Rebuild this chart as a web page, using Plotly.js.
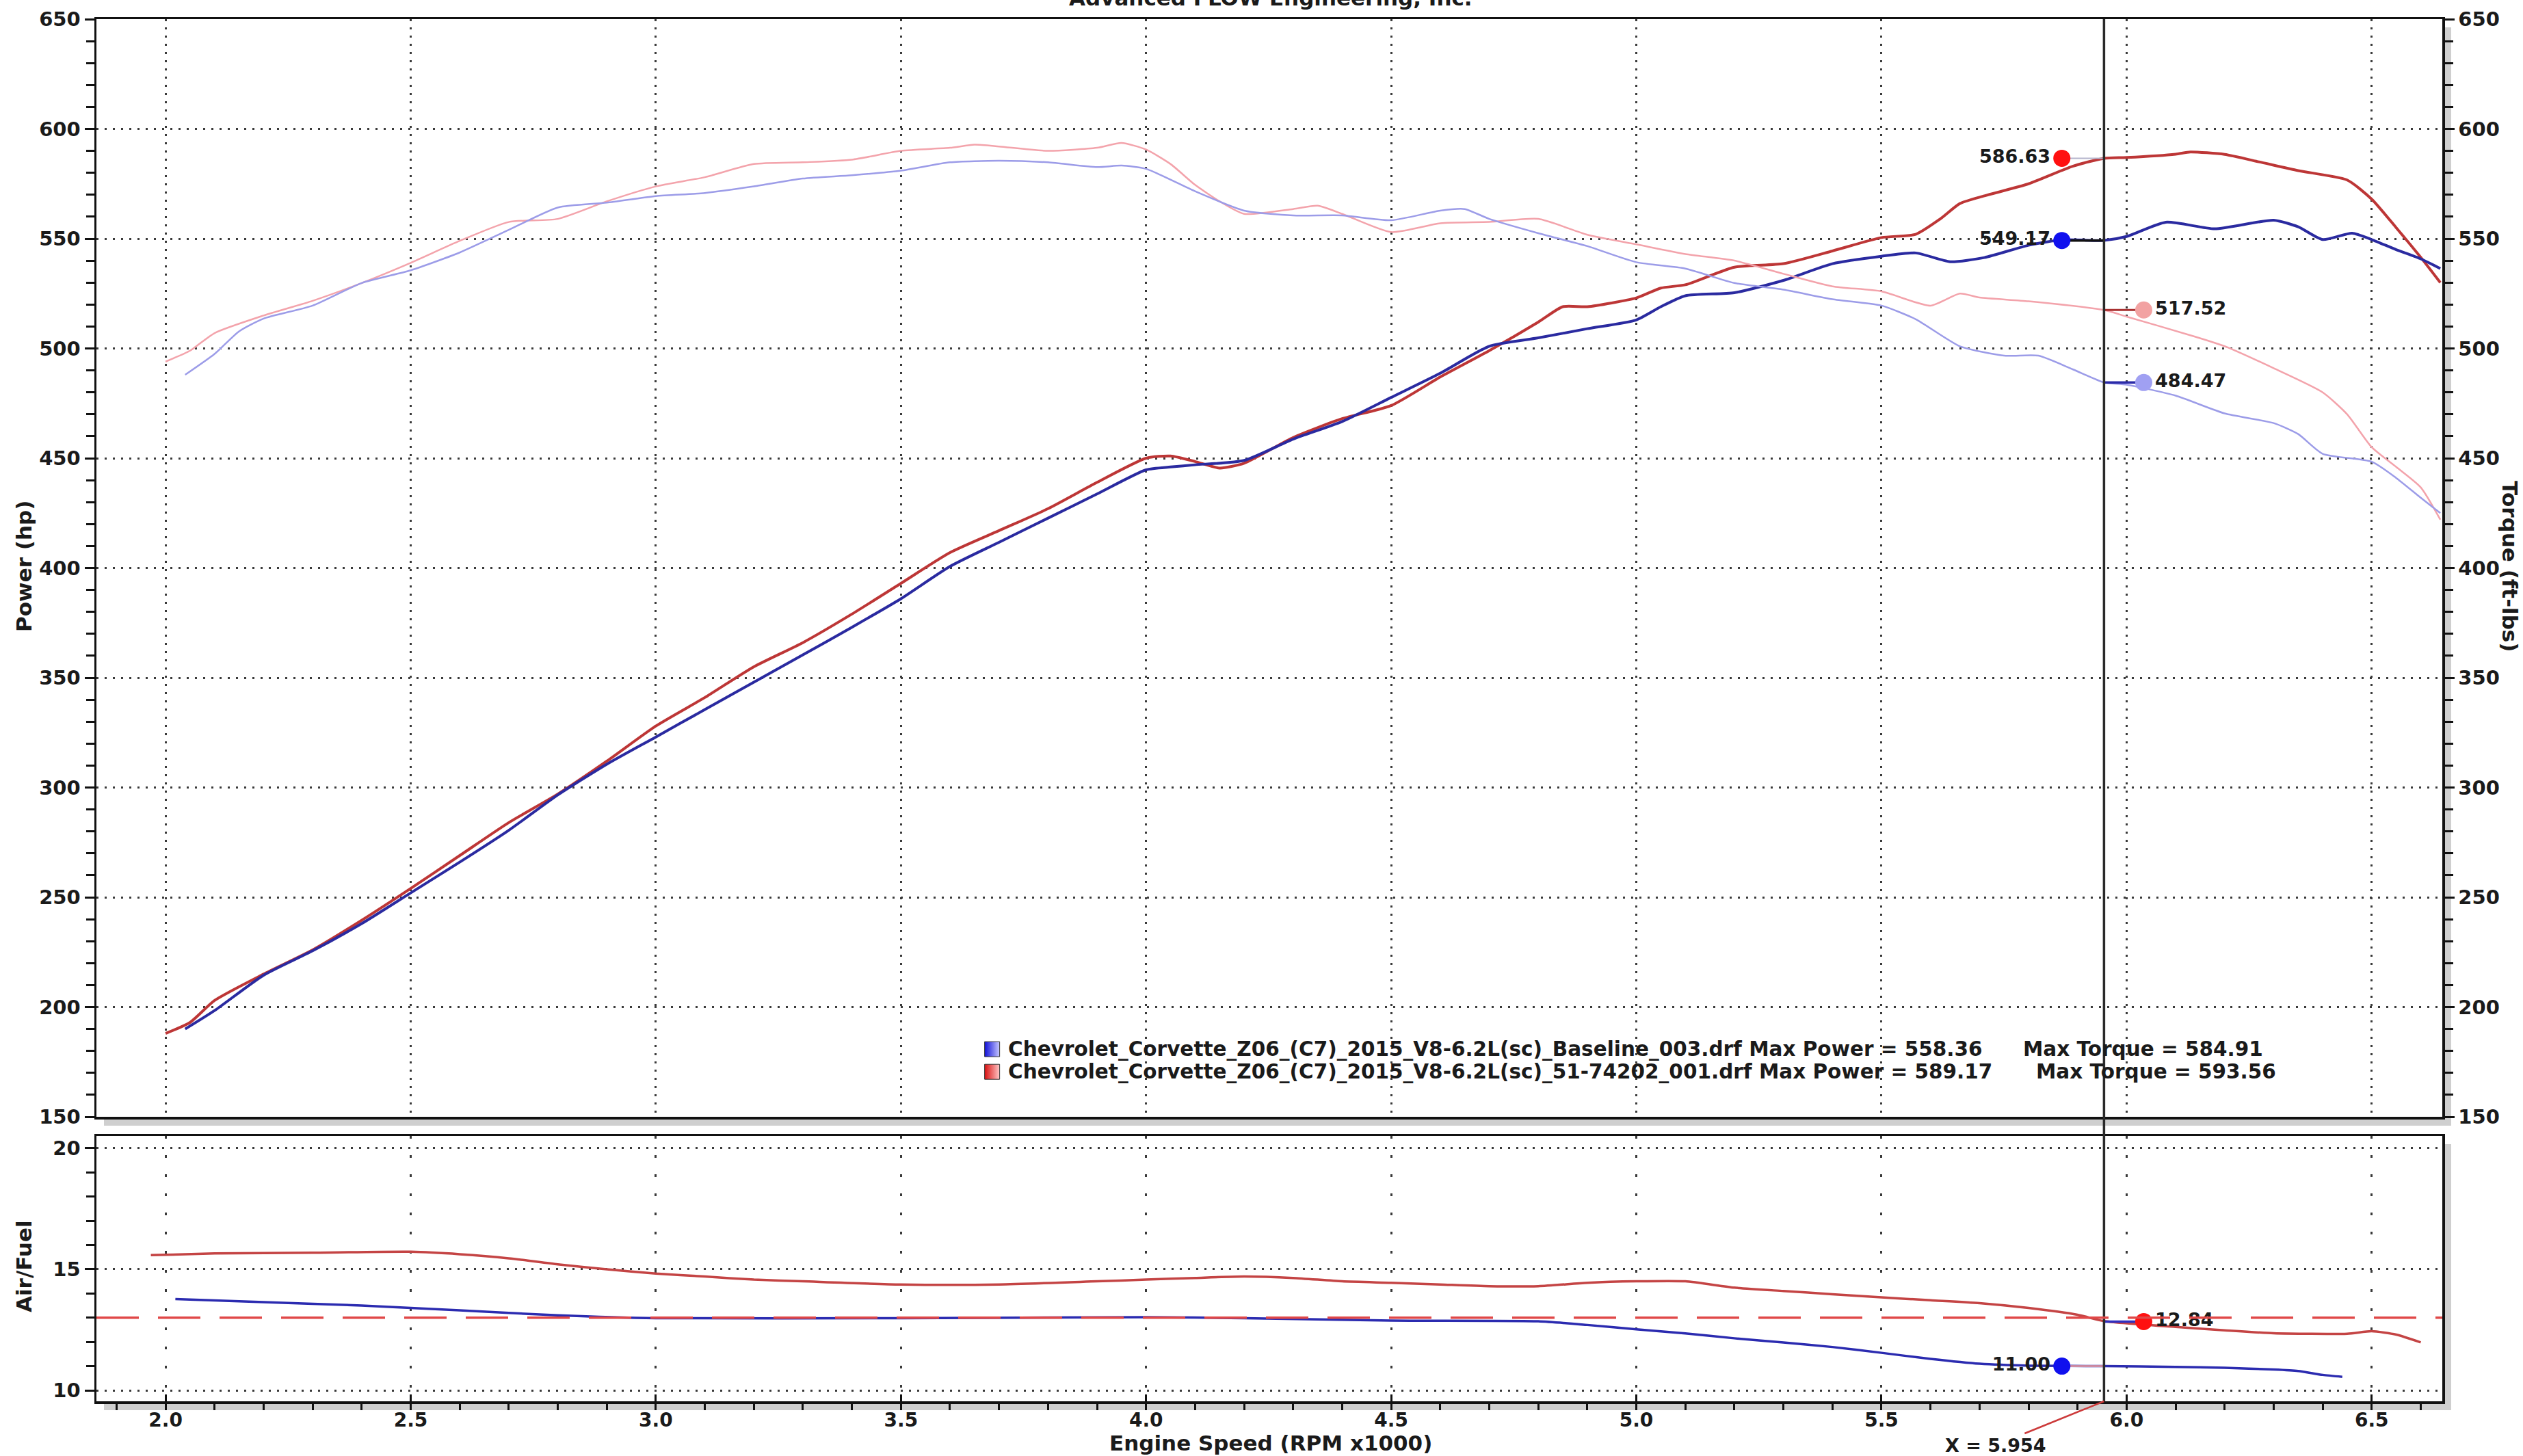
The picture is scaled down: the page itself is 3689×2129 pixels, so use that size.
<!DOCTYPE html>
<html>
<head>
<meta charset="utf-8">
<script src="https://cdn.plot.ly/plotly-3.0.1.min.js"></script>
<style>html,body{margin:0;padding:0;background:#fff;}#chart{width:3689px;height:2129px;}</style>
</head>
<body>
<div id="chart"></div>
<script>
// ---------------- DATA ----------------
const redPowerRpm = [2.0, 2.05, 2.1, 2.2, 2.3, 2.4, 2.5, 2.6, 2.7, 2.8, 2.9, 3.0, 3.1, 3.2, 3.3, 3.4, 3.5, 3.6, 3.7, 3.8, 3.9, 4.0, 4.05, 4.1, 4.15, 4.2, 4.3, 4.4, 4.5, 4.6, 4.7, 4.8, 4.85, 4.9, 5.0, 5.05, 5.1, 5.2, 5.3, 5.4, 5.5, 5.57, 5.62, 5.66, 5.71, 5.8, 5.89, 5.954, 6.0, 6.1, 6.13, 6.2, 6.27, 6.35, 6.45, 6.5, 6.55, 6.6, 6.64];
const redPower    = [188, 193, 203, 215, 226, 239.5, 254, 269, 284, 297, 312, 328, 341, 355, 366, 379, 393, 407, 417, 427, 439, 450, 451, 448.5, 445.5, 447.7, 459.4, 468, 474, 487, 499, 512, 519, 519, 523, 527.5, 529, 537, 538.6, 544.4, 550.5, 552, 559, 566, 569.5, 575, 583, 586.6, 587, 588.5, 589.5, 588.4, 585, 581, 576.7, 568, 555, 541.5, 530];

const bluePowerRpm = [2.04, 2.1, 2.2, 2.3, 2.4, 2.5, 2.6, 2.7, 2.8, 2.9, 3.0, 3.1, 3.2, 3.3, 3.4, 3.5, 3.6, 3.7, 3.8, 3.9, 4.0, 4.05, 4.1, 4.2, 4.3, 4.4, 4.5, 4.6, 4.7, 4.8, 4.9, 5.0, 5.05, 5.1, 5.2, 5.3, 5.4, 5.5, 5.57, 5.64, 5.71, 5.8, 5.87, 5.954, 6.0, 6.08, 6.18, 6.3, 6.35, 6.4, 6.46, 6.5, 6.55, 6.6, 6.64];
const bluePower    = [190, 198.4, 214.5, 225.6, 238, 252, 266, 280.5, 296.6, 310.6, 323, 335.5, 348, 360.4, 373, 386, 400.7, 411.7, 422.7, 433.7, 444.7, 446, 447, 449, 458.7, 466.7, 477.7, 488.7, 501, 504.8, 509, 513, 519, 524, 525.4, 531, 538.6, 542, 543.5, 539.5, 541.4, 547, 549.5, 549.2, 551, 557.5, 554.5, 558.4, 555.4, 549.6, 552.5, 549.6, 545, 540.8, 536.4];

const redTorqueRpm = [2.0, 2.05, 2.1, 2.2, 2.3, 2.4, 2.5, 2.6, 2.7, 2.8, 2.9, 3.0, 3.1, 3.2, 3.3, 3.4, 3.5, 3.6, 3.65, 3.7, 3.8, 3.9, 3.95, 4.0, 4.05, 4.1, 4.15, 4.2, 4.3, 4.35, 4.4, 4.5, 4.6, 4.7, 4.8, 4.9, 5.0, 5.1, 5.2, 5.3, 5.4, 5.5, 5.6, 5.66, 5.7, 5.8, 5.954, 6.0, 6.13, 6.2, 6.3, 6.4, 6.45, 6.5, 6.55, 6.6, 6.64];
const redTorque    = [494, 499, 507, 515, 521.7, 529.8, 539, 549, 557.6, 559, 567, 573.8, 578, 584, 584.8, 586, 590, 591.4, 592.8, 592, 590, 591.4, 593.6, 590.6, 584, 574.5, 567, 561.3, 563.5, 565, 561.3, 553, 557, 557.6, 559, 551.8, 547.4, 543, 540, 534, 528.3, 526, 519.5, 525, 523.2, 521.5, 517.5, 514.5, 506, 501, 491, 480, 470, 455, 446, 436.7, 422];

const blueTorqueRpm = [2.04, 2.1, 2.15, 2.2, 2.3, 2.4, 2.5, 2.6, 2.7, 2.8, 2.9, 3.0, 3.1, 3.2, 3.3, 3.4, 3.5, 3.6, 3.7, 3.8, 3.9, 3.95, 4.0, 4.1, 4.2, 4.3, 4.4, 4.5, 4.6, 4.65, 4.7, 4.8, 4.9, 5.0, 5.1, 5.2, 5.3, 5.4, 5.5, 5.57, 5.66, 5.75, 5.82, 5.89, 5.954, 6.0, 6.1, 6.2, 6.3, 6.35, 6.4, 6.5, 6.55, 6.6, 6.64];
const blueTorque    = [488, 497.5, 507.8, 513.6, 519.5, 529.8, 535.6, 543.7, 554, 564.2, 566.4, 569.4, 570.8, 573.8, 577.4, 578.9, 581, 584.8, 585.5, 584.8, 582.6, 583.3, 581.8, 571.6, 562.8, 560.6, 560.6, 558.4, 562.8, 563.5, 559, 552.5, 546.6, 539.3, 536.4, 529.8, 526.8, 522.4, 519.5, 513.3, 501, 496.7, 496.7, 490.5, 484.5, 483.5, 478.5, 470.4, 466, 461, 452, 448.4, 441, 432, 425];

const redAfrRpm = [1.97, 2.1, 2.3, 2.5, 2.6, 2.7, 2.8, 2.9, 3.0, 3.1, 3.2, 3.3, 3.5, 3.7, 3.9, 4.0, 4.1, 4.2, 4.3, 4.4, 4.5, 4.6, 4.7, 4.8, 4.9, 5.0, 5.1, 5.2, 5.3, 5.4, 5.5, 5.6, 5.7, 5.8, 5.9, 5.954, 6.1, 6.2, 6.3, 6.45, 6.5, 6.55, 6.6];
const redAfr    = [15.58, 15.65, 15.68, 15.72, 15.62, 15.45, 15.2, 15.0, 14.82, 14.7, 14.57, 14.5, 14.37, 14.37, 14.5, 14.57, 14.64, 14.7, 14.64, 14.5, 14.44, 14.37, 14.3, 14.3, 14.44, 14.5, 14.5, 14.24, 14.1, 13.97, 13.84, 13.72, 13.6, 13.4, 13.12, 12.86, 12.62, 12.48, 12.36, 12.34, 12.44, 12.3, 11.98];

const blueAfrRpm = [2.02, 2.2, 2.4, 2.6, 2.8, 3.0, 3.5, 4.0, 4.2, 4.5, 4.8, 4.9, 5.0, 5.1, 5.2, 5.3, 5.4, 5.5, 5.6, 5.7, 5.8, 5.954, 6.1, 6.2, 6.3, 6.35, 6.4, 6.44];
const blueAfr    = [13.77, 13.64, 13.5, 13.3, 13.1, 12.98, 12.98, 13.02, 12.98, 12.88, 12.85, 12.7, 12.52, 12.35, 12.15, 11.98, 11.79, 11.55, 11.3, 11.1, 11.02, 11.0, 10.97, 10.93, 10.86, 10.8, 10.64, 10.56];

const afrTarget = 13.0;
const cursorRpm = 5.954;
const cursorPowerValues  = [586.63, 549.17];   // 51-74202 run, baseline run
const cursorTorqueValues = [517.52, 484.47];   // 51-74202 run, baseline run
const cursorAfrValues    = [11.00, 12.84];     // baseline run, 51-74202 run

const legendNames = ['Chevrolet_Corvette_Z06_(C7)_2015_V8-6.2L(sc)_Baseline_003.drf',
                     'Chevrolet_Corvette_Z06_(C7)_2015_V8-6.2L(sc)_51-74202_001.drf'];
const maxPower  = [558.36, 589.17];
const maxTorque = [584.91, 593.56];

const xTickVals = [2.0, 2.5, 3.0, 3.5, 4.0, 4.5, 5.0, 5.5, 6.0, 6.5];
const xTickText = ['2.0', '2.5', '3.0', '3.5', '4.0', '4.5', '5.0', '5.5', '6.0', '6.5'];

// ---------------- STYLE / LAYOUT ----------------
const W = 3689, H = 2129;
const M = {l: 141, r: 118, t: 28, b: 80};
const PW = W - M.l - M.r, PH = H - M.t - M.b;
const px2x = p => (p - M.l) / PW;
const px2y = p => (H - M.b - p) / PH;

const FONT = 'DejaVu Sans, Verdana, sans-serif';
const xRange = [1.859, 6.644];
const pRange = [150, 650];
const afrRange = [9.55, 20.5];
const topDomain = [px2y(1633), 1];
const botDomain = [0, px2y(1661)];
const gridDot = '3px,9px';
const tickFont = {family: FONT, size: 29, color: '#1a1a1a', weight: 'bold'};

const redPowerColor = '#bd3636', bluePowerColor = '#2a2aa0';
const redTorqueColor = '#f3a3ab', blueTorqueColor = '#9c9ce8';

const leftOff = 0.086, rightOff = 0.081;

const traces = [
  {x: redTorqueRpm, y: redTorque, xaxis: 'x', yaxis: 'y3', mode: 'lines', line: {color: redTorqueColor, width: 2.5, shape: 'spline', smoothing: 0.6}},
  {x: blueTorqueRpm, y: blueTorque, xaxis: 'x', yaxis: 'y3', mode: 'lines', line: {color: blueTorqueColor, width: 2.5, shape: 'spline', smoothing: 0.6}},
  {x: redPowerRpm, y: redPower, xaxis: 'x', yaxis: 'y', mode: 'lines', line: {color: redPowerColor, width: 4, shape: 'spline', smoothing: 0.6}},
  {x: bluePowerRpm, y: bluePower, xaxis: 'x', yaxis: 'y', mode: 'lines', line: {color: bluePowerColor, width: 4, shape: 'spline', smoothing: 0.6}},
  {x: redAfrRpm, y: redAfr, xaxis: 'x2', yaxis: 'y2', mode: 'lines', line: {color: '#c44444', width: 3.5, shape: 'spline', smoothing: 0.6}},
  {x: blueAfrRpm, y: blueAfr, xaxis: 'x2', yaxis: 'y2', mode: 'lines', line: {color: '#2b2bb0', width: 3.5, shape: 'spline', smoothing: 0.6}},
];

// cursor connectors
function connector(xa, ya, x0, x1, v, color, width) {
  traces.push({x: [x0, x1], y: [v, v], xaxis: xa, yaxis: ya, mode: 'lines', line: {color: color, width: width}});
}
connector('x', 'y', cursorRpm - leftOff, cursorRpm, cursorPowerValues[0], '#b4b4cc', 2);
connector('x', 'y', cursorRpm - leftOff, cursorRpm, cursorPowerValues[1], '#111111', 3.5);
connector('x', 'y3', cursorRpm, cursorRpm + rightOff, cursorTorqueValues[0], '#a83030', 3);
connector('x', 'y3', cursorRpm, cursorRpm + rightOff, cursorTorqueValues[1], '#2a2aa8', 3.5);
connector('x2', 'y2', cursorRpm - leftOff, cursorRpm, cursorAfrValues[0], '#f0a0a0', 2.5);
connector('x2', 'y2', cursorRpm, cursorRpm + rightOff, cursorAfrValues[1], '#3030c0', 3.5);

const labelFont = {family: FONT, size: 27, color: '#1a1a1a', weight: 'bold'};
function cursorMarker(xa, ya, x, v, color, pos) {
  traces.push({x: [x], y: [v], xaxis: xa, yaxis: ya, mode: 'markers+text',
    marker: {color: color, size: 25, line: {width: 0}},
    text: [v.toFixed(2)], textposition: pos, textfont: labelFont});
}
cursorMarker('x', 'y', cursorRpm - leftOff, cursorPowerValues[0], '#ff1010', 'middle left');
cursorMarker('x', 'y', cursorRpm - leftOff, cursorPowerValues[1], '#1010ee', 'middle left');
cursorMarker('x', 'y3', cursorRpm + rightOff, cursorTorqueValues[0], '#f2a2a2', 'middle right');
cursorMarker('x', 'y3', cursorRpm + rightOff, cursorTorqueValues[1], '#a0a0f2', 'middle right');
cursorMarker('x2', 'y2', cursorRpm - leftOff, cursorAfrValues[0], '#1010ee', 'middle left');
cursorMarker('x2', 'y2', cursorRpm + rightOff, cursorAfrValues[1], '#ff1010', 'middle right');

// legend (custom, drawn inside the plot)
const legendTextX = 3.716, legendIconX = 3.686, legendY = [180.8, 170.5];
const legendTorqueX = [5.786, 5.812];
const legendIconColors = [['#1010d8', '#c8c8ff'], ['#d81010', '#ffc8c8']];
const annotations = [];
const legFont = {family: FONT, size: 29.5, color: '#1a1a1a', weight: 'bold'};
legendNames.forEach((n, i) => {
  traces.push({x: [legendIconX], y: [legendY[i]], xaxis: 'x', yaxis: 'y', mode: 'markers',
    marker: {symbol: 'square', size: 22, color: legendIconColors[i][0],
             gradient: {type: 'horizontal', color: legendIconColors[i][1]},
             line: {color: '#333', width: 1}}});
  annotations.push({x: legendTextX, y: legendY[i], xref: 'x', yref: 'y', xanchor: 'left', yanchor: 'middle',
    showarrow: false, text: n + ' Max Power = ' + maxPower[i].toFixed(2), font: legFont});
  annotations.push({x: legendTorqueX[i], y: legendY[i], xref: 'x', yref: 'y', xanchor: 'left', yanchor: 'middle',
    showarrow: false, text: 'Max Torque = ' + maxTorque[i].toFixed(2), font: legFont});
});

const titleFont = {family: FONT, size: 31, color: '#1a1a1a', weight: 'bold'};
annotations.push(
  {text: 'Advanced FLOW Engineering, Inc.', xref: 'paper', yref: 'paper', x: px2x(1858), y: px2y(-3), xanchor: 'center', yanchor: 'middle', showarrow: false, font: titleFont},
  {text: 'Power (hp)', xref: 'paper', yref: 'paper', x: px2x(35), y: px2y(828), textangle: -90, xanchor: 'center', yanchor: 'middle', showarrow: false, font: titleFont},
  {text: 'Torque (ft-lbs)', xref: 'paper', yref: 'paper', x: px2x(3670), y: px2y(828), textangle: 90, xanchor: 'center', yanchor: 'middle', showarrow: false, font: titleFont},
  {text: 'Air/Fuel', xref: 'paper', yref: 'paper', x: px2x(35), y: px2y(1852), textangle: -90, xanchor: 'center', yanchor: 'middle', showarrow: false, font: titleFont},
  {text: 'Engine Speed (RPM x1000)', xref: 'paper', yref: 'paper', x: px2x(1858), y: px2y(2110), xanchor: 'center', yanchor: 'middle', showarrow: false, font: titleFont},
  {text: 'X = ' + cursorRpm.toFixed(3), xref: 'x2', yref: 'y2', x: cursorRpm, y: afrRange[0], showarrow: true, arrowhead: 0, arrowwidth: 2.5, arrowcolor: '#cc3a3a',
   ax: -158, ay: 64, font: {family: FONT, size: 27, color: '#1a1a1a', weight: 'bold'}}
);

// decorative frame shadows
const shadow = (x0, y0, x1, y1) => ({type: 'rect', xref: 'paper', yref: 'paper', x0: px2x(x0), x1: px2x(x1), y0: px2y(y1), y1: px2y(y0),
  fillcolor: '#cfcfcf', line: {width: 0}, layer: 'below'});

const shapes = [
  shadow(152, 1635, 3584, 1646),
  shadow(3573, 40, 3584, 1646),
  shadow(152, 2051, 3584, 2062),
  shadow(3573, 1673, 3584, 2062),
  {type: 'line', xref: 'x', yref: 'paper', x0: cursorRpm, x1: cursorRpm, y0: 0, y1: 1, line: {color: '#2a2a2a', width: 3.5}},
  {type: 'line', xref: 'paper', yref: 'y2', x0: 0, x1: 1, y0: afrTarget, y1: afrTarget, line: {color: '#e04848', width: 3.5, dash: '62px,28px'}},
];

const axisCommon = {showline: true, linewidth: 3.5, linecolor: '#111', zeroline: false, tickfont: tickFont, tickcolor: '#111', fixedrange: true};

const layout = {
  width: W, height: H,
  margin: M,
  paper_bgcolor: '#ffffff', plot_bgcolor: '#ffffff',
  showlegend: false,
  font: {family: FONT, color: '#1a1a1a'},
  xaxis: Object.assign({}, axisCommon, {domain: [0, 1], anchor: 'y', range: xRange, mirror: true,
    showticklabels: false, ticks: '', tickvals: xTickVals,
    showgrid: true, gridcolor: '#3a3a3a', gridwidth: 3, griddash: gridDot}),
  yaxis: Object.assign({}, axisCommon, {domain: topDomain, anchor: 'x', range: pRange, mirror: true,
    tickmode: 'linear', tick0: 0, dtick: 50, ticks: 'outside', ticklen: 14, tickwidth: 3,
    minor: {dtick: 10, tick0: 0, ticks: 'outside', ticklen: 12, tickwidth: 3, tickcolor: '#111', showgrid: false},
    showgrid: true, gridcolor: '#3a3a3a', gridwidth: 3, griddash: gridDot}),
  yaxis3: Object.assign({}, axisCommon, {overlaying: 'y', side: 'right', anchor: 'x', range: pRange,
    tickmode: 'linear', tick0: 0, dtick: 50, ticks: 'outside', ticklen: 14, tickwidth: 3,
    minor: {dtick: 10, tick0: 0, ticks: 'outside', ticklen: 12, tickwidth: 3, tickcolor: '#111', showgrid: false},
    showgrid: false}),
  xaxis2: Object.assign({}, axisCommon, {domain: [0, 1], anchor: 'y2', range: xRange, mirror: true,
    tickvals: xTickVals, ticktext: xTickText, ticks: 'inside', ticklen: 10, tickwidth: 3,
    tickfont: {family: FONT, size: 28, color: '#1a1a1a', weight: 'bold'},
    minor: {dtick: 0.1, tick0: 0, ticks: 'outside', ticklen: 9, tickwidth: 3, tickcolor: '#111', showgrid: false},
    showgrid: true, gridcolor: '#3a3a3a', gridwidth: 3, griddash: '4px,24px'}),
  yaxis2: Object.assign({}, axisCommon, {domain: botDomain, anchor: 'x2', range: afrRange, mirror: true,
    tickmode: 'linear', tick0: 0, dtick: 5, ticks: 'outside', ticklen: 14, tickwidth: 3,
    minor: {dtick: 1, tick0: 0, ticks: 'outside', ticklen: 12, tickwidth: 3, tickcolor: '#111', showgrid: false},
    showgrid: true, gridcolor: '#3a3a3a', gridwidth: 3, griddash: gridDot}),
  annotations: annotations,
  shapes: shapes,
};

Plotly.newPlot('chart', traces, layout, {staticPlot: true, displayModeBar: false});
</script>
</body>
</html>
